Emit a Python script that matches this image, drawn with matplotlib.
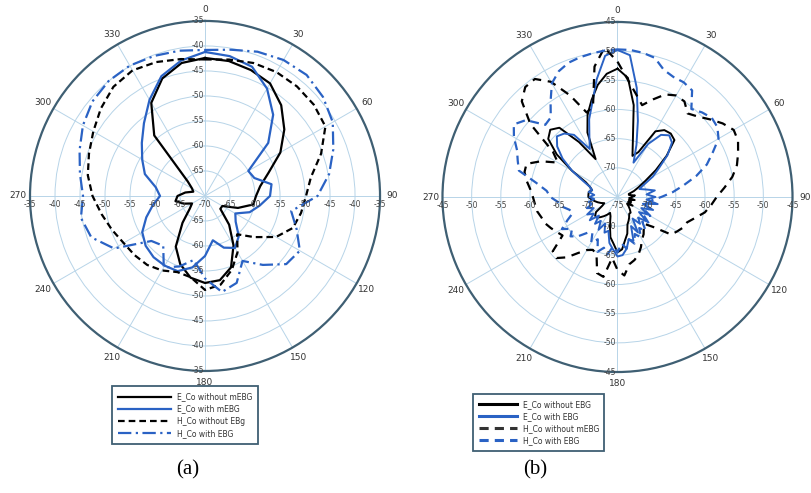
import numpy as np
import matplotlib.pyplot as plt
from matplotlib.lines import Line2D
from matplotlib.transforms import offset_copy

# panel (a): every 10 degrees, clockwise from top
ang_a = np.arange(0, 360, 10)
a_e_without = [-42.4, -42.6, -43.2, -44.0, -46.3, -49.3, -52.6, -56.5, -58.8, -59.8,
               -60.2, -63.0, -66.0, -66.0, -62.5, -58.6, -54.8, -52.9, -52.6, -53.4,
               -55.5, -58.3, -63.0, -66.0, -67.0, -65.5, -64.0, -64.5, -66.0, -67.5,
               -67.0, -65.5, -54.2, -48.5, -45.0, -43.0]
a_e_with = [-41.2, -41.6, -42.5, -45.2, -48.8, -53.5, -60.0, -59.5, -56.5, -57.0,
            -58.9, -60.5, -63.0, -62.0, -59.5, -58.0, -59.0, -61.0, -58.0, -55.5,
            -54.0, -53.9, -54.0, -54.5, -55.5, -57.5, -59.4, -61.0, -60.0, -57.2,
            -55.5, -53.5, -51.0, -47.8, -44.5, -42.5]
a_h_without = [-42.7, -42.3, -41.7, -41.4, -41.4, -41.6, -42.2, -45.3, -48.5, -49.8,
               -50.5, -51.3, -53.6, -57.2, -60.0, -57.0, -54.3, -52.0, -51.2, -53.5,
               -53.8, -52.8, -52.0, -51.6, -51.2, -50.2, -49.0, -47.5, -46.2, -45.3,
               -44.2, -42.8, -41.5, -41.0, -41.5, -42.2]
a_h_with = [-40.8, -40.3, -39.3, -38.6, -38.4, -39.2, -40.5, -42.7, -44.8, -47.5,
            -52.5, -50.5, -48.1, -48.8, -52.0, -55.0, -51.5, -50.5, -53.5, -57.0,
            -55.0, -53.5, -57.0, -56.0, -49.0, -45.8, -44.8, -45.6, -44.6, -43.3,
            -41.8, -40.6, -40.0, -39.9, -40.2, -40.5]

# panel (b): every 5 degrees
ang_b = np.arange(0, 360, 5)
b_e_without = [-53.0, -54.5, -59.0, -64.8, -67.5, -66.5, -62.0, -61.0, -60.8, -61.2,
               -64.0, -67.0, -69.5, -71.0, -72.0, -73.0, -73.0, -72.0, -72.5, -73.0,
               -72.0, -73.0, -72.5, -73.0, -72.0, -73.0, -72.5, -72.0, -71.5, -71.5,
               -71.0, -70.5, -70.0, -68.5, -67.5, -66.0, -65.5, -67.0, -68.0, -70.0,
               -71.5, -72.0, -71.5, -71.0, -70.5, -70.0, -70.0, -70.5, -72.0, -72.5,
               -72.0, -71.5, -71.0, -70.5, -70.0, -70.0, -70.0, -70.5, -70.0, -69.0,
               -66.0, -62.3, -59.5, -58.7, -59.5, -63.5, -67.5, -62.8, -60.0, -57.8,
               -55.5, -53.8]
b_e_with = [-49.8, -50.6, -56.0, -61.5, -65.5, -68.5, -64.5, -62.0, -61.2, -61.8,
            -63.8, -66.3, -68.0, -70.0, -71.0, -70.0, -68.5, -70.0, -68.5, -70.0,
            -68.0, -70.5, -68.5, -70.5, -69.0, -70.5, -68.5, -70.0, -69.0, -70.5,
            -68.0, -69.5, -67.0, -67.5, -66.0, -65.0, -64.8, -66.0, -67.0, -69.0,
            -68.5, -70.0, -68.5, -70.0, -69.0, -70.5, -68.8, -70.0, -69.0, -70.5,
            -69.4, -70.5, -70.0, -71.0, -70.2, -71.0, -70.0, -70.5, -70.0, -68.5,
            -66.0, -63.5, -61.5, -60.3, -60.8, -62.0, -65.5, -63.6, -60.8, -58.3,
            -54.5, -50.7]
b_h_without = [-51.8, -54.8, -57.0, -58.7, -57.2, -55.6, -54.9, -55.0, -56.3, -55.5,
               -54.3, -53.0, -52.0, -52.2, -53.0, -53.8, -55.0, -56.6, -58.0, -58.9,
               -59.8, -61.2, -62.3, -62.6, -63.2, -63.8, -67.0, -68.5, -68.0, -67.2,
               -66.6, -65.5, -64.5, -63.8, -63.3, -61.5, -62.5, -64.5, -61.1, -61.5,
               -64.5, -65.0, -64.5, -63.3, -61.5, -60.2, -60.5, -63.5, -63.0, -62.4,
               -61.8, -61.5, -61.0, -60.8, -60.5, -60.0, -59.2, -58.5, -58.4, -60.5,
               -63.2, -61.5, -55.5, -51.8, -50.4, -50.3, -52.2, -55.8, -59.6, -58.8,
               -52.3, -49.3]
b_h_with = [-49.7, -49.7, -49.9, -50.3, -51.8, -52.3, -52.3, -52.7, -55.3, -54.5,
            -53.9, -54.1, -55.0, -57.0, -58.7, -61.0, -63.5, -65.5, -67.5, -69.0,
            -69.5, -70.5, -69.0, -70.0, -68.5, -69.5, -68.0, -69.0, -67.5, -68.5,
            -67.0, -68.0, -66.5, -67.5, -66.0, -67.0, -65.5, -66.5, -65.0, -66.0,
            -65.0, -67.0, -66.0, -67.5, -67.0, -65.5, -64.5, -65.5, -64.0, -65.5,
            -66.8, -66.5, -65.4, -64.8, -63.5, -62.8, -60.8, -57.5, -56.8, -56.0,
            -54.5, -53.3, -54.5, -57.5, -57.2, -55.0, -52.5, -51.2, -50.5, -50.2,
            -50.0, -49.8]

labels_a = ['E_Co without mEBG', 'E_Co with mEBG', 'H_Co without EBg', 'H_Co with EBG']
labels_b = ['E_Co without EBG', 'E_Co with EBG', 'H_Co without mEBG', 'H_Co with EBG']

BLUE = '#2a62c4'
EDGE = '#3f5f73'
GRID = '#b7d4e8'


def closed(deg, vals):
    th = np.deg2rad(np.append(deg, deg[0] + 360))
    return th, np.append(vals, vals[0])


def setup(ax, rmin, rmax, skip90=False):
    ax.set_theta_zero_location('N')
    ax.set_theta_direction(-1)
    ax.set_ylim(rmin, rmax)
    ax.set_yticks(np.arange(rmin, rmax + 1, 5))
    ax.set_yticklabels([])
    ax.set_xticks(np.deg2rad(np.arange(0, 360, 30)))
    ticklabels = [str(d) for d in range(0, 360, 30)]
    if skip90:
        ticklabels[3] = ''
    ax.set_xticklabels(ticklabels, fontsize=6.5, color='#333333')
    ax.tick_params(axis='x', pad=-2)
    ax.grid(color=GRID, lw=0.7)
    ax.spines['polar'].set_color(EDGE)
    ax.spines['polar'].set_linewidth(1.6)
    fig = ax.figure
    below = offset_copy(ax.transData, fig=fig, y=-4, units='dots')
    left = offset_copy(ax.transData, fig=fig, x=-1, units='dots')
    for v in range(rmin + 5, rmax + 1, 5):
        for d in (90, 270):
            ax.text(np.deg2rad(d), v, str(v), transform=below, ha='center', va='top',
                    fontsize=5.5, color='#444444')
        for d in (0, 180):
            ax.text(np.deg2rad(d), v, str(v), transform=left, ha='right', va='center',
                    fontsize=5.5, color='#444444')
    ax.text(0, rmin, str(rmin), transform=below, ha='center', va='top',
            fontsize=5.5, color='#444444')


fig = plt.figure(figsize=(8.11, 4.93), dpi=100)

ax1 = fig.add_axes([0.037, 0.2475, 0.4316, 0.71], projection='polar')
setup(ax1, -70, -35)
ax1.plot(*closed(ang_a, a_e_without), color='black', lw=1.6)
ax1.plot(*closed(ang_a, a_e_with), color=BLUE, lw=1.6)
ax1.plot(*closed(ang_a, a_h_without), color='black', lw=1.6, dashes=(3, 1.8))
ax1.plot(*closed(ang_a, a_h_with), color=BLUE, lw=1.6, dashes=(6, 2, 1, 2))

ax2 = fig.add_axes([0.5456, 0.2454, 0.4316, 0.71], projection='polar')
setup(ax2, -75, -45, skip90=True)
ax2.plot(*closed(ang_b, b_e_without), color='black', lw=1.4)
ax2.plot(*closed(ang_b, b_e_with), color=BLUE, lw=1.4)
ax2.plot(*closed(ang_b, b_h_without), color='black', lw=1.6, dashes=(4, 3))
ax2.plot(*closed(ang_b, b_h_with), color=BLUE, lw=1.6, dashes=(4, 2.5))
# the "90" label of panel (b) sits on the right edge of the figure
fig.text(0.9995, 1 - 197 / 493, '90', ha='right', va='center', fontsize=6.5, color='#333333')

h_a = [Line2D([], [], color='black', lw=1.6),
       Line2D([], [], color=BLUE, lw=1.6),
       Line2D([], [], color='black', lw=1.6, dashes=(3, 1.8)),
       Line2D([], [], color=BLUE, lw=1.6, dashes=(6, 2, 1, 2))]
h_b = [Line2D([], [], color='black', lw=2.2),
       Line2D([], [], color=BLUE, lw=2.2),
       Line2D([], [], color='#333333', lw=2.2, dashes=(3, 2)),
       Line2D([], [], color=BLUE, lw=2.2, dashes=(3, 2))]

for handles, labels, box, hl in ((h_a, labels_a, (0.133, 0.095, 0.19, 0.126), 7),
                                 (h_b, labels_b, (0.578, 0.081, 0.171, 0.124), 5)):
    leg = fig.legend(handles, labels, loc='center', bbox_to_anchor=box, mode='expand',
                     fontsize=5.5, handlelength=hl, labelspacing=0.4, borderpad=0.8,
                     fancybox=False, framealpha=1, edgecolor=EDGE, labelcolor='#333333')
    leg.get_frame().set_linewidth(1.3)

fig.text(0.232, 0.047, '(a)', ha='center', va='center', fontsize=15, family='Liberation Serif')
fig.text(0.66, 0.047, '(b)', ha='center', va='center', fontsize=15, family='Liberation Serif')

fig.savefig('out.png', dpi=100)
